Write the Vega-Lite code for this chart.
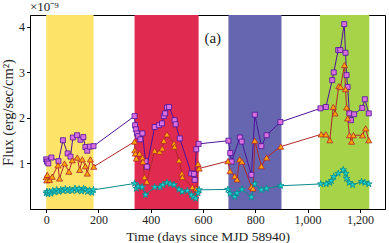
{
  "$schema": "https://vega.github.io/schema/vega-lite/v6.json",
  "width": 355,
  "height": 194,
  "autosize": "none",
  "padding": {"left": 30, "top": 15, "right": 4, "bottom": 34},
  "background": "white",
  "config": {
    "font": "Liberation Serif",
    "view": {"stroke": "black", "strokeWidth": 1},
    "axis": {"grid": false, "domainColor": "black", "tickColor": "black", "labelColor": "#222", "titleColor": "#222", "labelFont": "Liberation Serif", "titleFont": "Liberation Serif", "labelFontSize": 12, "titleFontSize": 13.5, "titleFontWeight": "normal", "tickSize": 3.5, "labelPadding": 2}
  },
  "title": {"text": "×10⁻⁹", "anchor": "start", "frame": "group", "fontSize": 13, "fontWeight": "normal", "font": "Liberation Serif", "color": "#222", "offset": 1},
  "datasets": {
    "bands": [
      {"b": "yellow", "start": 0, "end": 181},
      {"b": "red", "start": 338, "end": 583},
      {"b": "blue", "start": 697, "end": 900},
      {"b": "green", "start": 1047, "end": 1236}
    ],
    "pts": [
      {"s": "P", "day": 0, "flux": 1.09}, {"s": "P", "day": 3, "flux": 1.04}, {"s": "P", "day": 8, "flux": 1.0}, {"s": "P", "day": 20, "flux": 1.13}, {"s": "P", "day": 47, "flux": 1.05}, {"s": "P", "day": 64, "flux": 1.51}, {"s": "P", "day": 82, "flux": 1.22}, {"s": "P", "day": 93, "flux": 1.15}, {"s": "P", "day": 102, "flux": 1.57}, {"s": "P", "day": 118, "flux": 1.62}, {"s": "P", "day": 131, "flux": 1.52}, {"s": "P", "day": 142, "flux": 1.58}, {"s": "P", "day": 150, "flux": 1.36}, {"s": "P", "day": 157, "flux": 1.28}, {"s": "P", "day": 167, "flux": 1.37}, {"s": "P", "day": 181, "flux": 1.38},
      {"s": "P", "day": 338, "flux": 2.04}, {"s": "P", "day": 340, "flux": 1.84}, {"s": "P", "day": 343, "flux": 1.75}, {"s": "P", "day": 347, "flux": 1.66}, {"s": "P", "day": 352, "flux": 1.6}, {"s": "P", "day": 360, "flux": 1.53}, {"s": "P", "day": 368, "flux": 1.66}, {"s": "P", "day": 380, "flux": 1.05}, {"s": "P", "day": 385, "flux": 0.93}, {"s": "P", "day": 415, "flux": 1.8}, {"s": "P", "day": 431, "flux": 1.84}, {"s": "P", "day": 443, "flux": 1.88}, {"s": "P", "day": 450, "flux": 2.04}, {"s": "P", "day": 455, "flux": 2.1}, {"s": "P", "day": 462, "flux": 2.23}, {"s": "P", "day": 470, "flux": 2.24}, {"s": "P", "day": 491, "flux": 1.95}, {"s": "P", "day": 495, "flux": 1.86}, {"s": "P", "day": 511, "flux": 1.55}, {"s": "P", "day": 555, "flux": 0.78}, {"s": "P", "day": 565, "flux": 0.77}, {"s": "P", "day": 568, "flux": 0.64}, {"s": "P", "day": 574, "flux": 1.31}, {"s": "P", "day": 583, "flux": 1.43},
      {"s": "P", "day": 697, "flux": 1.5}, {"s": "P", "day": 704, "flux": 1.23}, {"s": "P", "day": 709, "flux": 1.04}, {"s": "P", "day": 741, "flux": 1.57}, {"s": "P", "day": 748, "flux": 1.48}, {"s": "P", "day": 785, "flux": 0.75}, {"s": "P", "day": 798, "flux": 2.07}, {"s": "P", "day": 823, "flux": 1.38}, {"s": "P", "day": 843, "flux": 1.62}, {"s": "P", "day": 896, "flux": 1.91},
      {"s": "P", "day": 1049, "flux": 2.21}, {"s": "P", "day": 1070, "flux": 2.24}, {"s": "P", "day": 1094, "flux": 2.83}, {"s": "P", "day": 1100, "flux": 3.0}, {"s": "P", "day": 1117, "flux": 3.49}, {"s": "P", "day": 1125, "flux": 3.49}, {"s": "P", "day": 1140, "flux": 4.06}, {"s": "P", "day": 1145, "flux": 3.43}, {"s": "P", "day": 1149, "flux": 2.94}, {"s": "P", "day": 1153, "flux": 2.68}, {"s": "P", "day": 1160, "flux": 2.1}, {"s": "P", "day": 1166, "flux": 1.95}, {"s": "P", "day": 1178, "flux": 2.08}, {"s": "P", "day": 1209, "flux": 2.22}, {"s": "P", "day": 1219, "flux": 2.41}, {"s": "P", "day": 1234, "flux": 2.1},

      {"s": "O", "day": 0, "flux": 0.7}, {"s": "O", "day": 2, "flux": 0.63}, {"s": "O", "day": 4, "flux": 0.75}, {"s": "O", "day": 13, "flux": 0.64}, {"s": "O", "day": 23, "flux": 0.71}, {"s": "O", "day": 45, "flux": 0.96}, {"s": "O", "day": 51, "flux": 0.67}, {"s": "O", "day": 70, "flux": 1.0}, {"s": "O", "day": 87, "flux": 0.82}, {"s": "O", "day": 100, "flux": 1.07}, {"s": "O", "day": 119, "flux": 1.13}, {"s": "O", "day": 128, "flux": 0.86}, {"s": "O", "day": 138, "flux": 1.09}, {"s": "O", "day": 150, "flux": 0.94}, {"s": "O", "day": 157, "flux": 0.78}, {"s": "O", "day": 169, "flux": 1.09}, {"s": "O", "day": 182, "flux": 0.93},
      {"s": "O", "day": 338, "flux": 1.48}, {"s": "O", "day": 339, "flux": 1.29}, {"s": "O", "day": 341, "flux": 1.22}, {"s": "O", "day": 345, "flux": 1.11}, {"s": "O", "day": 357, "flux": 1.22}, {"s": "O", "day": 368, "flux": 1.13}, {"s": "O", "day": 370, "flux": 1.04}, {"s": "O", "day": 376, "flux": 0.7}, {"s": "O", "day": 385, "flux": 0.6}, {"s": "O", "day": 415, "flux": 1.28}, {"s": "O", "day": 434, "flux": 1.26}, {"s": "O", "day": 444, "flux": 1.33}, {"s": "O", "day": 450, "flux": 1.5}, {"s": "O", "day": 462, "flux": 1.64}, {"s": "O", "day": 489, "flux": 1.44}, {"s": "O", "day": 491, "flux": 1.37}, {"s": "O", "day": 508, "flux": 1.07}, {"s": "O", "day": 519, "flux": 0.78}, {"s": "O", "day": 521, "flux": 0.7}, {"s": "O", "day": 559, "flux": 0.48}, {"s": "O", "day": 574, "flux": 0.45}, {"s": "O", "day": 578, "flux": 0.4}, {"s": "O", "day": 581, "flux": 0.99}, {"s": "O", "day": 585, "flux": 0.89},
      {"s": "O", "day": 695, "flux": 1.05}, {"s": "O", "day": 703, "flux": 0.83}, {"s": "O", "day": 721, "flux": 0.72}, {"s": "O", "day": 730, "flux": 0.65}, {"s": "O", "day": 740, "flux": 1.09}, {"s": "O", "day": 749, "flux": 1.04}, {"s": "O", "day": 785, "flux": 0.49}, {"s": "O", "day": 791, "flux": 0.45}, {"s": "O", "day": 798, "flux": 1.5}, {"s": "O", "day": 823, "flux": 0.94}, {"s": "O", "day": 843, "flux": 1.13}, {"s": "O", "day": 897, "flux": 1.37},
      {"s": "O", "day": 1052, "flux": 1.64}, {"s": "O", "day": 1070, "flux": 1.64}, {"s": "O", "day": 1085, "flux": 1.51}, {"s": "O", "day": 1098, "flux": 2.24}, {"s": "O", "day": 1105, "flux": 2.1}, {"s": "O", "day": 1119, "flux": 2.7}, {"s": "O", "day": 1126, "flux": 2.68}, {"s": "O", "day": 1141, "flux": 3.16}, {"s": "O", "day": 1145, "flux": 2.63}, {"s": "O", "day": 1149, "flux": 2.23}, {"s": "O", "day": 1153, "flux": 1.99}, {"s": "O", "day": 1160, "flux": 1.62}, {"s": "O", "day": 1168, "flux": 1.48}, {"s": "O", "day": 1175, "flux": 1.62}, {"s": "O", "day": 1210, "flux": 1.62}, {"s": "O", "day": 1222, "flux": 1.77}, {"s": "O", "day": 1234, "flux": 1.51},

      {"s": "T", "day": 0, "flux": 0.35}, {"s": "T", "day": 3, "flux": 0.38}, {"s": "T", "day": 7, "flux": 0.33}, {"s": "T", "day": 12, "flux": 0.38}, {"s": "T", "day": 18, "flux": 0.34}, {"s": "T", "day": 25, "flux": 0.4}, {"s": "T", "day": 32, "flux": 0.37}, {"s": "T", "day": 40, "flux": 0.42}, {"s": "T", "day": 48, "flux": 0.38}, {"s": "T", "day": 56, "flux": 0.42}, {"s": "T", "day": 65, "flux": 0.4}, {"s": "T", "day": 73, "flux": 0.44}, {"s": "T", "day": 82, "flux": 0.4}, {"s": "T", "day": 90, "flux": 0.43}, {"s": "T", "day": 100, "flux": 0.4}, {"s": "T", "day": 110, "flux": 0.45}, {"s": "T", "day": 118, "flux": 0.41}, {"s": "T", "day": 126, "flux": 0.44}, {"s": "T", "day": 135, "flux": 0.39}, {"s": "T", "day": 143, "flux": 0.45}, {"s": "T", "day": 150, "flux": 0.42}, {"s": "T", "day": 158, "flux": 0.38}, {"s": "T", "day": 166, "flux": 0.41}, {"s": "T", "day": 175, "flux": 0.36}, {"s": "T", "day": 181, "flux": 0.42},
      {"s": "T", "day": 338, "flux": 0.56}, {"s": "T", "day": 345, "flux": 0.45}, {"s": "T", "day": 352, "flux": 0.5}, {"s": "T", "day": 367, "flux": 0.48}, {"s": "T", "day": 380, "flux": 0.31}, {"s": "T", "day": 415, "flux": 0.48}, {"s": "T", "day": 436, "flux": 0.48}, {"s": "T", "day": 446, "flux": 0.53}, {"s": "T", "day": 462, "flux": 0.58}, {"s": "T", "day": 475, "flux": 0.55}, {"s": "T", "day": 489, "flux": 0.53}, {"s": "T", "day": 508, "flux": 0.43}, {"s": "T", "day": 520, "flux": 0.38}, {"s": "T", "day": 540, "flux": 0.4}, {"s": "T", "day": 555, "flux": 0.31}, {"s": "T", "day": 562, "flux": 0.26}, {"s": "T", "day": 572, "flux": 0.23}, {"s": "T", "day": 581, "flux": 0.35}, {"s": "T", "day": 585, "flux": 0.42},
      {"s": "T", "day": 695, "flux": 0.43}, {"s": "T", "day": 703, "flux": 0.34}, {"s": "T", "day": 721, "flux": 0.27}, {"s": "T", "day": 730, "flux": 0.35}, {"s": "T", "day": 749, "flux": 0.43}, {"s": "T", "day": 785, "flux": 0.26}, {"s": "T", "day": 798, "flux": 0.55}, {"s": "T", "day": 823, "flux": 0.42}, {"s": "T", "day": 843, "flux": 0.45}, {"s": "T", "day": 897, "flux": 0.51},
      {"s": "T", "day": 1050, "flux": 0.55}, {"s": "T", "day": 1071, "flux": 0.55}, {"s": "T", "day": 1085, "flux": 0.58}, {"s": "T", "day": 1091, "flux": 0.62}, {"s": "T", "day": 1100, "flux": 0.71}, {"s": "T", "day": 1117, "flux": 0.78}, {"s": "T", "day": 1136, "flux": 0.86}, {"s": "T", "day": 1146, "flux": 0.78}, {"s": "T", "day": 1149, "flux": 0.67}, {"s": "T", "day": 1159, "flux": 0.58}, {"s": "T", "day": 1172, "flux": 0.53}, {"s": "T", "day": 1206, "flux": 0.6}, {"s": "T", "day": 1219, "flux": 0.58}, {"s": "T", "day": 1234, "flux": 0.55}
    ],
    "labels": [{"day": 637, "flux": 3.75, "text": "(a)"}]
  },
  "layer": [
    {
      "data": {"name": "bands"},
      "mark": {"type": "rect"},
      "encoding": {
        "x": {"field": "start", "type": "quantitative", "scale": {"domain": [-62, 1296], "nice": false, "zero": false}, "axis": {"values": [0, 200, 400, 600, 800, 1000, 1200], "title": "Time (days since MJD 58940)"}},
        "x2": {"field": "end"},
        "color": {"field": "b", "type": "nominal", "scale": {"domain": ["yellow", "red", "blue", "green"], "range": ["#FDE468", "#E02A50", "#6666B0", "#A6D348"]}, "legend": null}
      }
    },
    {
      "data": {"name": "pts"},
      "mark": {"type": "line", "strokeWidth": 1},
      "encoding": {
        "x": {"field": "day", "type": "quantitative"},
        "y": {"field": "flux", "type": "quantitative", "scale": {"domain": [0, 4.26], "nice": false, "zero": false}, "axis": {"values": [1, 2, 3, 4], "title": "Flux (erg/sec/cm²)", "titlePadding": 3, "titleFontSize": 14.5}},
        "stroke": {"field": "s", "type": "nominal", "scale": {"domain": ["P", "O", "T"], "range": ["#4E1499", "#B0282A", "#0A8A8A"]}, "legend": null}
      }
    },
    {
      "data": {"name": "pts"},
      "mark": {"type": "point", "filled": true, "opacity": 1, "strokeWidth": 0.8},
      "encoding": {
        "x": {"field": "day", "type": "quantitative"},
        "y": {"field": "flux", "type": "quantitative"},
        "shape": {"field": "s", "type": "nominal", "scale": {"domain": ["P", "O", "T"], "range": ["square", "triangle-up", "M0,-1L0.2245,-0.309L0.951,-0.309L0.363,0.118L0.588,0.809L0,0.382L-0.588,0.809L-0.363,0.118L-0.951,-0.309L-0.2245,-0.309Z"]}, "legend": null},
        "fill": {"field": "s", "type": "nominal", "scale": {"domain": ["P", "O", "T"], "range": ["#DA6FE0", "#FFA500", "#1CD6D6"]}, "legend": null},
        "stroke": {"field": "s", "type": "nominal", "scale": {"domain": ["P", "O", "T"], "range": ["#4E1499", "#B0282A", "#0A8A8A"]}, "legend": null},
        "size": {"field": "s", "type": "nominal", "scale": {"domain": ["P", "O", "T"], "range": [25, 48, 80]}, "legend": null}
      }
    },
    {
      "data": {"name": "labels"},
      "mark": {"type": "text", "fontSize": 15, "font": "Liberation Serif", "color": "#222"},
      "encoding": {
        "x": {"field": "day", "type": "quantitative"},
        "y": {"field": "flux", "type": "quantitative"},
        "text": {"field": "text"}
      }
    }
  ],
  "resolve": {"scale": {"stroke": "shared"}}
}
